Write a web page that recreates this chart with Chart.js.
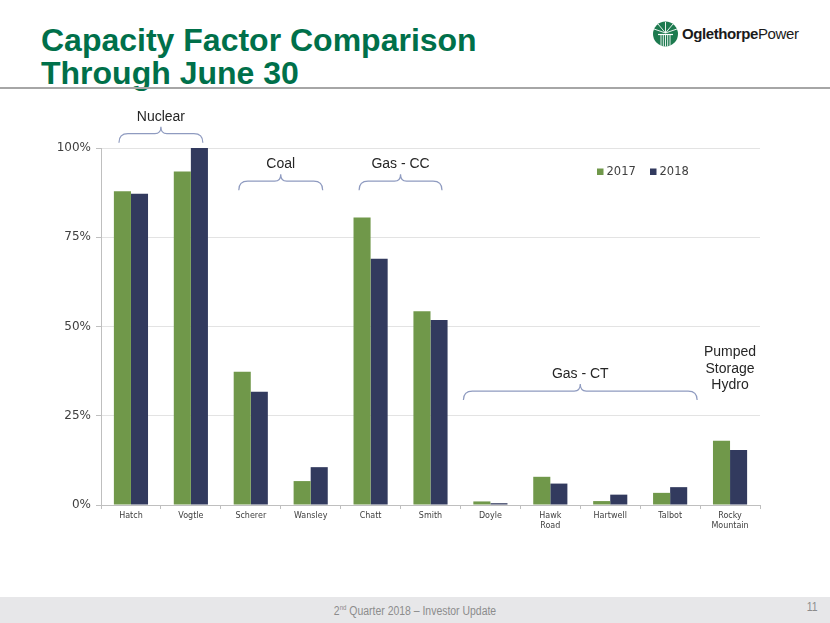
<!DOCTYPE html>
<html>
<head>
<meta charset="utf-8">
<script src="https://cdn.jsdelivr.net/npm/chart.js@4.4.0/dist/chart.umd.min.js"></script>
<style>
  body { margin: 0; width: 830px; height: 623px; overflow: hidden; background: #fff; position: relative; font-family: "Liberation Sans", Arial, sans-serif; }
  #title { position: absolute; left: 41px; top: 24px; margin: 0; font-size: 32px; line-height: 32.5px; font-weight: bold; color: #00704a; }
  #rule { position: absolute; left: 0; top: 87px; width: 830px; height: 2px; background: #a6a6a6; }
  #logo { position: absolute; left: 652px; top: 21px; height: 26px; }
  #logoText { position: absolute; left: 682px; top: 25px; font-size: 15px; color: #1a1a1a; letter-spacing: -0.4px; }
  #footer { position: absolute; left: 0; top: 597px; width: 830px; height: 26px; background: #e7e7e9; }
  #footer .txt { position: absolute; left: 0; width: 830px; top: 7px; text-align: center; font-size: 12px; color: #8c8c8c; transform: scaleX(0.87); transform-origin: 415px 0; }
  #footer .num { position: absolute; left: 806px; top: 3px; font-size: 12px; color: #8c8c8c; transform: scaleX(0.87); }
  sup { font-size: 7px; }
  #chart { position: absolute; left: 0; top: 100px; }
</style>
</head>
<body>
<h1 id="title">Capacity Factor Comparison<br>Through June 30</h1>
<div id="rule"></div>
<svg id="logo" width="27" height="26" viewBox="0 0 27 26">
  <circle cx="13.5" cy="13" r="12.5" fill="#1d7a4f"/>
  <g stroke="#fff" stroke-width="0.9">
    <line x1="9" y1="14" x2="9" y2="25"/><line x1="11.3" y1="14" x2="11.3" y2="25.5"/>
    <line x1="13.5" y1="14" x2="13.5" y2="25.5"/><line x1="15.7" y1="14" x2="15.7" y2="25.5"/>
    <line x1="18" y1="14" x2="18" y2="25"/>
    <line x1="13.5" y1="12" x2="13.5" y2="1"/><line x1="13.5" y1="12" x2="6" y2="3"/>
    <line x1="13.5" y1="12" x2="21" y2="3"/><line x1="13.5" y1="12" x2="2" y2="8"/>
    <line x1="13.5" y1="12" x2="25" y2="8"/>
  </g>
  <path d="M6 13.5 H21" stroke="#fff" stroke-width="1.2"/>
</svg>
<div id="logoText"><b>Oglethorpe</b>Power</div>
<canvas id="chart" width="830" height="460"></canvas>
<div id="footer">
  <div class="txt">2<sup>nd</sup> Quarter 2018 – Investor Update</div>
  <div class="num">11</div>
</div>
<script>
// Capacity factor, % through June 30
const categories = ['Hatch', 'Vogtle', 'Scherer', 'Wansley', 'Chatt', 'Smith', 'Doyle', ['Hawk', 'Road'], 'Hartwell', 'Talbot', ['Rocky', 'Mountain']];
const values2017 = [87.9, 93.4, 37.3, 6.7, 80.5, 54.3, 1.0, 7.9, 1.1, 3.4, 18.0];
const values2018 = [87.2, 100, 31.7, 10.6, 69.0, 51.8, 0.5, 6.0, 2.9, 5.0, 15.4];
const yTicks = [0, 25, 50, 75, 100];
const seriesNames = ['2017', '2018'];

// fuel type groups: label, first category, last category
const groups = [
    ['Nuclear', 0, 1],
    ['Coal', 2, 3],
    ['Gas - CC', 4, 5],
    ['Gas - CT', 6, 9]
];
const hydroNote = ['Pumped', 'Storage', 'Hydro'];

const GREEN = '#70984a';
const NAVY = '#323a5e';

// brace style for each group: y value of the brace ends, side overhang
const braceStyle = [
    { level: 101.5, pad: 12 },
    { level: 88.2, pad: 12 },
    { level: 88.2, pad: 11.5 },
    { level: 29.4, pad: 27 }
];

function drawBrace(ctx, x0, x1, yEnd) {
    const yH = yEnd - 9;
    const yTip = yEnd - 16;
    const xc = (x0 + x1) / 2;
    ctx.beginPath();
    ctx.moveTo(x0, yEnd);
    ctx.quadraticCurveTo(x0, yH, x0 + 9, yH);
    ctx.lineTo(xc - 6, yH);
    ctx.quadraticCurveTo(xc, yH, xc, yTip);
    ctx.quadraticCurveTo(xc, yH, xc + 6, yH);
    ctx.lineTo(x1 - 9, yH);
    ctx.quadraticCurveTo(x1, yH, x1, yEnd);
    ctx.stroke();
}

const annotations = {
    id: 'annotations',
    afterDraw(chart) {
        const ctx = chart.ctx;
        const xs = chart.scales.x;
        const ys = chart.scales.y;
        const area = chart.chartArea;
        ctx.save();

        // braces and group labels
        ctx.strokeStyle = '#8f9bc0';
        ctx.lineWidth = 1.2;
        ctx.fillStyle = '#262626';
        ctx.font = '14px "Liberation Sans", Arial, sans-serif';
        ctx.textAlign = 'center';
        ctx.textBaseline = 'middle';
        groups.forEach((g, i) => {
            const st = braceStyle[i];
            const x0 = xs.getPixelForValue(g[1]) - st.pad;
            const x1 = xs.getPixelForValue(g[2]) + st.pad;
            const yEnd = ys.getPixelForValue(st.level);
            drawBrace(ctx, x0, x1, yEnd);
            ctx.fillText(g[0], (x0 + x1) / 2, yEnd - 26);
        });

        // pumped storage note over last category
        const hx = xs.getPixelForValue(categories.length - 1);
        const hy = ys.getPixelForValue(42.9);
        hydroNote.forEach((line, i) => ctx.fillText(line, hx, hy + i * 16.8));

        // legend
        ctx.font = '11.5px "DejaVu Sans", Verdana, sans-serif';
        ctx.textAlign = 'left';
        const ly = area.top + 24;
        [GREEN, NAVY].forEach((c, i) => {
            const lx = area.right - 163 + i * 53;
            ctx.fillStyle = c;
            ctx.fillRect(lx, ly - 3.5, 6.5, 6.5);
            ctx.fillStyle = '#404040';
            ctx.fillText(seriesNames[i], lx + 9.5, ly);
        });
        ctx.restore();
    }
};

new Chart(document.getElementById('chart'), {
    type: 'bar',
    data: {
        labels: categories,
        datasets: [
            { label: seriesNames[0], data: values2017, backgroundColor: GREEN },
            { label: seriesNames[1], data: values2018, backgroundColor: NAVY }
        ]
    },
    options: {
        responsive: false,
        animation: false,
        categoryPercentage: 0.57,
        barPercentage: 1,
        layout: { padding: { left: 0, right: 70, top: 48, bottom: 0 } },
        scales: {
            x: {
                afterFit(scale) { scale.height = 55; },
                grid: { drawOnChartArea: false, tickLength: 4, tickColor: '#bfbfbf' },
                border: { color: '#bfbfbf' },
                ticks: {
                    color: '#404040',
                    padding: 2,
                    maxRotation: 0,
                    font: { family: '"DejaVu Sans", Verdana, sans-serif', size: 8, lineHeight: 1.25 }
                }
            },
            y: {
                min: 0,
                max: 100,
                afterFit(scale) { scale.width = 101; },
                afterBuildTicks(scale) { scale.ticks = yTicks.map(v => ({ value: v })); },
                grid: { color: '#e3e3e3', tickLength: 5, tickColor: '#bfbfbf' },
                border: { color: '#bfbfbf' },
                ticks: {
                    color: '#404040',
                    padding: 5,
                    font: { family: '"DejaVu Sans", Verdana, sans-serif', size: 12 },
                    callback: v => v + '%'
                }
            }
        },
        plugins: {
            legend: { display: false },
            tooltip: { enabled: false }
        }
    },
    plugins: [annotations]
});
</script>
</body>
</html>
